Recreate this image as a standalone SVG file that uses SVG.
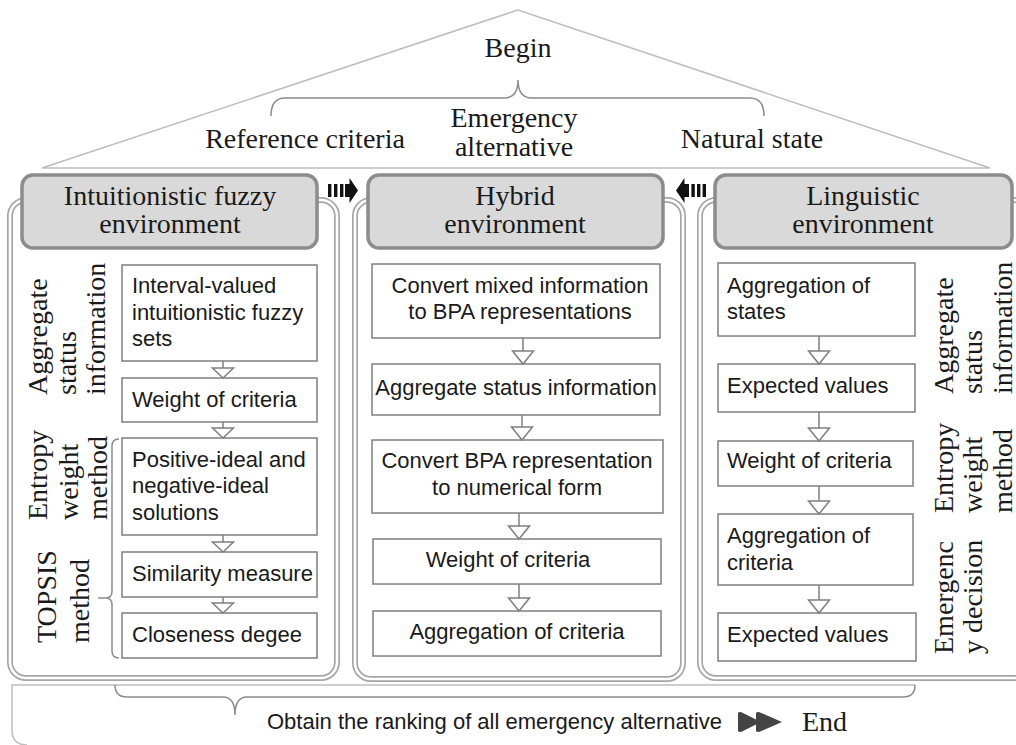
<svg xmlns="http://www.w3.org/2000/svg" width="1016" height="745" viewBox="0 0 1016 745">
<defs>
<style>
.serif{font-family:"Liberation Serif","Times New Roman",serif;font-size:28px;fill:#1a1a1a}
.sans{font-family:"Liberation Sans",Arial,sans-serif;font-size:22px;fill:#1a1a1a}
.mid{text-anchor:middle}
.box{fill:#fff;stroke:#7f7f7f;stroke-width:1.5}
.hdr{fill:#d9d9d9;stroke:#8c8c8c;stroke-width:3.5}
.panelo{fill:#fff;stroke:#a6a6a6;stroke-width:6}
.paneli{fill:none;stroke:#fff;stroke-width:2.6}
.line{fill:none;stroke:#7f7f7f;stroke-width:1.5}
.brace{fill:none;stroke:#8c8c8c;stroke-width:1.5}
.thin{fill:none;stroke:#bdbdbd;stroke-width:1.5}
.blk{fill:#111}
</style>
<marker id="tri" viewBox="-1 -1 15 23" refX="13" refY="10.5" markerWidth="15" markerHeight="23" markerUnits="userSpaceOnUse" orient="auto" overflow="visible">
<path d="M0,0 L13,10.5 L0,21 Z" fill="#fff" stroke="#7f7f7f" stroke-width="1.5"/>
</marker>
<marker id="tris" viewBox="-1 -1 12 23" refX="10" refY="10.5" markerWidth="12" markerHeight="23" markerUnits="userSpaceOnUse" orient="auto" overflow="visible">
<path d="M0,0 L10,10.5 L0,21 Z" fill="#fff" stroke="#7f7f7f" stroke-width="1.5"/>
</marker>
</defs>
<rect width="1016" height="745" fill="#fff"/>

<g id="roof">
<polygon class="thin" points="518,10 42,168 990,168"/>
<text class="serif mid" x="518" y="57">Begin</text>
<path class="brace" d="M271 116 Q271 98 285 98 L504 98 Q518 98 518 80 Q518 98 532 98 L750 98 Q764 98 764 116"/>
<text class="serif mid" x="305" y="148">Reference criteria</text>
<text class="serif mid" x="514" y="127">Emergency</text>
<text class="serif mid" x="514" y="156">alternative</text>
<text class="serif mid" x="752" y="148">Natural state</text>
</g>

<g id="bottom">
<path class="thin" d="M915 685 L12 685 L12 730 Q12 745 27 745"/>
<path class="brace" d="M115 685 Q115 697 127 697 L223 697 Q235 697 235 715 Q235 697 247 697 L903 697 Q915 697 915 685"/>
<text class="sans" x="267" y="729">Obtain the ranking of all emergency alternative</text>
<path fill="#444" d="M738 713 Q738 712 741 712 L761 722 L741 732 Q738 732 738 731 Z M756 713 Q756 712 759 712 L782 722 L759 732 Q756 732 756 731 Z"/>
<text class="serif" x="802" y="731">End</text>
</g>

<g id="panel-left">
<rect class="panelo" x="10" y="200" width="327" height="478" rx="16"/>
<rect class="paneli" x="10" y="200" width="327" height="478" rx="16"/>
<rect class="hdr" x="22" y="175" width="295" height="73" rx="11"/>
<text class="serif mid" x="170" y="205">Intuitionistic fuzzy</text>
<text class="serif mid" x="170" y="233">environment</text>
<text class="serif" transform="translate(47 395) rotate(-90)">Aggregate</text>
<text class="serif" transform="translate(76 395) rotate(-90)">status</text>
<text class="serif" transform="translate(105 395) rotate(-90)">information</text>
<text class="serif" transform="translate(47 520) rotate(-90)">Entropy</text>
<text class="serif" transform="translate(78 520) rotate(-90)">weight</text>
<text class="serif" transform="translate(107 520) rotate(-90)">method</text>
<text class="serif" transform="translate(56 643) rotate(-90)">TOPSIS</text>
<text class="serif" transform="translate(89 643) rotate(-90)">method</text>
<path class="brace" d="M119 439 Q112 439 112 446 L112 591 Q112 598 106 598 L98 598 M106 598 Q112 598 112 605 L112 651 Q112 658 119 658"/>
<g id="L1"><rect class="box" x="122" y="265" width="195" height="96"/>
<text class="sans" x="132" y="293">Interval-valued</text>
<text class="sans" x="132" y="320">intuitionistic fuzzy</text>
<text class="sans" x="132" y="346">sets</text></g>
<g id="L2"><rect class="box" x="122" y="378" width="195" height="44"/>
<text class="sans" x="132" y="407">Weight of criteria</text></g>
<g id="L3"><rect class="box" x="122" y="438" width="195" height="97"/>
<text class="sans" x="132" y="467">Positive-ideal and</text>
<text class="sans" x="132" y="493">negative-ideal</text>
<text class="sans" x="132" y="520">solutions</text></g>
<g id="L4"><rect class="box" x="122" y="552" width="195" height="45"/>
<text class="sans" x="132" y="581">Similarity measure</text></g>
<g id="L5"><rect class="box" x="122" y="613" width="195" height="45"/>
<text class="sans" x="132" y="642">Closeness degee</text></g>
</g>

<g id="panel-middle">
<rect class="panelo" x="355" y="200" width="328" height="479" rx="16"/>
<rect class="paneli" x="355" y="200" width="328" height="479" rx="16"/>
<rect class="hdr" x="368" y="175" width="295" height="73" rx="11"/>
<text class="serif mid" x="515" y="205">Hybrid</text>
<text class="serif mid" x="515" y="233">environment</text>
<g id="M1"><rect class="box" x="372" y="264" width="288" height="74"/>
<text class="sans mid" x="520" y="293">Convert mixed information</text>
<text class="sans mid" x="520" y="319">to BPA representations</text></g>
<g id="M2"><rect class="box" x="372" y="364" width="288" height="51"/>
<text class="sans mid" x="516" y="395">Aggregate status information</text></g>
<g id="M3"><rect class="box" x="372" y="440" width="291" height="73"/>
<text class="sans mid" x="517" y="468">Convert BPA representation</text>
<text class="sans mid" x="517" y="495">to numerical form</text></g>
<g id="M4"><rect class="box" x="373" y="539" width="288" height="45"/>
<text class="sans mid" x="508" y="567">Weight of criteria</text></g>
<g id="M5"><rect class="box" x="373" y="611" width="288" height="45"/>
<text class="sans mid" x="517" y="639">Aggregation of criteria</text></g>
</g>

<g id="panel-right">
<rect class="panelo" x="700" y="200" width="330" height="478" rx="16"/>
<rect class="paneli" x="700" y="200" width="330" height="478" rx="16"/>
<rect class="hdr" x="715" y="175" width="297" height="73" rx="11"/>
<text class="serif mid" x="863" y="205">Linguistic</text>
<text class="serif mid" x="863" y="233">environment</text>
<text class="serif" transform="translate(953 394) rotate(-90)">Aggregate</text>
<text class="serif" transform="translate(982 394) rotate(-90)">status</text>
<text class="serif" transform="translate(1012 394) rotate(-90)">information</text>
<text class="serif" transform="translate(953 513) rotate(-90)">Entropy</text>
<text class="serif" transform="translate(982 513) rotate(-90)">weight</text>
<text class="serif" transform="translate(1012 513) rotate(-90)">method</text>
<text class="serif" transform="translate(953 654) rotate(-90)">Emergenc</text>
<text class="serif" transform="translate(982 654) rotate(-90)">y decision</text>
<g id="R1"><rect class="box" x="718" y="263" width="197" height="73"/>
<text class="sans" x="727" y="293">Aggregation of</text>
<text class="sans" x="727" y="319">states</text></g>
<g id="R2"><rect class="box" x="718" y="364" width="197" height="48"/>
<text class="sans" x="727" y="393">Expected values</text></g>
<g id="R3"><rect class="box" x="718" y="441" width="195" height="45"/>
<text class="sans" x="727" y="468">Weight of criteria</text></g>
<g id="R4"><rect class="box" x="718" y="514" width="195" height="71"/>
<text class="sans" x="727" y="543">Aggregation of</text>
<text class="sans" x="727" y="570">criteria</text></g>
<g id="R5"><rect class="box" x="718" y="613" width="198" height="48"/>
<text class="sans" x="727" y="642">Expected values</text></g>
</g>

<g id="connectors">
<line class="line" x1="223" y1="361" x2="223" y2="378" marker-end="url(#tris)"/>
<line class="line" x1="223" y1="422" x2="223" y2="438" marker-end="url(#tris)"/>
<line class="line" x1="223" y1="535" x2="223" y2="552" marker-end="url(#tris)"/>
<line class="line" x1="223" y1="597" x2="223" y2="613" marker-end="url(#tris)"/>
<line class="line" x1="523" y1="338" x2="523" y2="364" marker-end="url(#tri)"/>
<line class="line" x1="522" y1="415" x2="522" y2="440" marker-end="url(#tri)"/>
<line class="line" x1="519" y1="513" x2="519" y2="539" marker-end="url(#tri)"/>
<line class="line" x1="519" y1="584" x2="519" y2="611" marker-end="url(#tri)"/>
<line class="line" x1="819" y1="336" x2="819" y2="364" marker-end="url(#tri)"/>
<line class="line" x1="819" y1="412" x2="819" y2="441" marker-end="url(#tri)"/>
<line class="line" x1="819" y1="486" x2="819" y2="514" marker-end="url(#tri)"/>
<line class="line" x1="819" y1="585" x2="819" y2="613" marker-end="url(#tri)"/>
<g id="arrow-right" class="blk">
<rect x="328" y="184" width="3.4" height="13"/>
<rect x="334" y="184" width="3.4" height="13"/>
<rect x="340" y="184" width="3.4" height="13"/>
<path d="M345 184 L349.5 184 L349.5 178 L358 190.5 L349.5 203 L349.5 197 L345 197 Z"/>
</g>
<g id="arrow-left" class="blk">
<rect x="702.6" y="184" width="3.4" height="13"/>
<rect x="697" y="184" width="3.4" height="13"/>
<rect x="691.4" y="184" width="3.4" height="13"/>
<path d="M689 184 L684.5 184 L684.5 178 L676 190.5 L684.5 203 L684.5 197 L689 197 Z"/>
</g>
</g>
</svg>
